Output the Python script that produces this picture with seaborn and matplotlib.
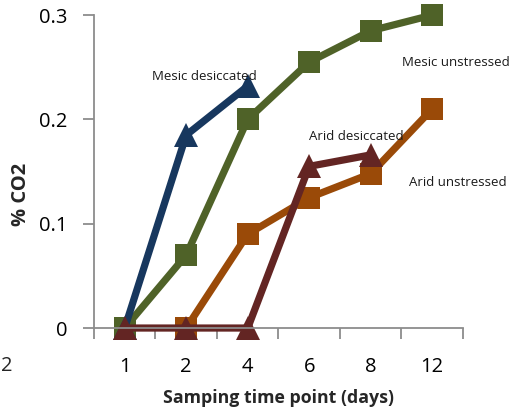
import matplotlib
matplotlib.use("Agg")
import matplotlib.pyplot as plt
import seaborn as sns
import pandas as pd
import numpy as np
from matplotlib.ticker import FixedLocator

# Sampling days (categorical axis) and % CO2 for each treatment
days = ["1", "2", "4", "6", "8", "12"]
mesic_unstressed = [0.0, 0.07, 0.20, 0.255, 0.285, 0.30]
mesic_desiccated = [0.0, 0.185, 0.232]
arid_unstressed = [0.0, 0.09, 0.125, 0.148, 0.21]
arid_desiccated = [0.0, 0.0, 0.0, 0.155, 0.166]

sns.set_theme(style="white")
plt.rcParams["font.family"] = ["Open Sans", "DejaVu Sans"]

fig = plt.figure(figsize=(5.13, 4.08), dpi=100)
ax = fig.add_axes([0.1832, 0.196, 0.7193, 0.767])

series = [
    ("Mesic unstressed", mesic_unstressed, days[:6], "#4F6228", "s"),
    ("Arid unstressed", arid_unstressed, days[1:6], "#9A4A08", "s"),
    ("Mesic desiccated", mesic_desiccated, days[:3], "#17375E", "^"),
    ("Arid desiccated", arid_desiccated, days[:5], "#632523", "^"),
]
for name, vals, xs, col, mk in series:
    df = pd.DataFrame({"pos": [days.index(d) for d in xs], "co2": vals})
    sns.lineplot(data=df, x="pos", y="co2", ax=ax, color=col, linewidth=5.2,
                 marker=mk, markersize=16 if mk == "s" else 17,
                 markeredgewidth=0, markeredgecolor=col, clip_on=False)

ax.set_xlim(-0.5, 5.5)
ax.set_ylim(0, 0.3)
ax.set_xticks(range(len(days)))
ax.set_xticklabels(days)
ax.xaxis.set_minor_locator(FixedLocator(np.arange(-0.5, 6.0, 1.0)))
ax.set_yticks([0, 0.1, 0.2, 0.3])
ax.set_yticklabels(["0", "0.1", "0.2", "0.3"])

for s in ["top", "right"]:
    ax.spines[s].set_visible(False)
for s in ["left", "bottom"]:
    ax.spines[s].set_color("#8c8c8c")
    ax.spines[s].set_linewidth(1.3)

ax.tick_params(axis="x", which="major", length=0, labelsize=14.5, pad=21, colors="black")
ax.tick_params(axis="x", which="minor", length=8, width=1.3, color="#8c8c8c", bottom=True)
ax.tick_params(axis="y", which="major", length=8, width=1.3, color="#8c8c8c",
               labelsize=14.5, pad=11, left=True, labelcolor="black")

ax.set_xlabel("Samping time point (days)", fontsize=12.8, fontweight="bold")
ax.xaxis.set_label_coords(0.5, -0.195)
ax.set_ylabel("% CO2", fontsize=14.5, fontweight="bold")
ax.yaxis.set_label_coords(-0.171, 0.428)

lab = dict(fontsize=9.5, color="#1a1a1a", ha="left", va="center")
fig.text(152 / 513, 1 - 77 / 408, "Mesic desiccated", **lab)
fig.text(402 / 513, 1 - 62 / 408, "Mesic unstressed", **lab)
fig.text(309 / 513, 1 - 137 / 408, "Arid desiccated", **lab)
fig.text(409 / 513, 1 - 183 / 408, "Arid unstressed", **lab)
fig.text(1 / 513, 1 - 366 / 408, "2", fontsize=14.5, ha="left", va="center")

fig.savefig("out.png", dpi=100)
